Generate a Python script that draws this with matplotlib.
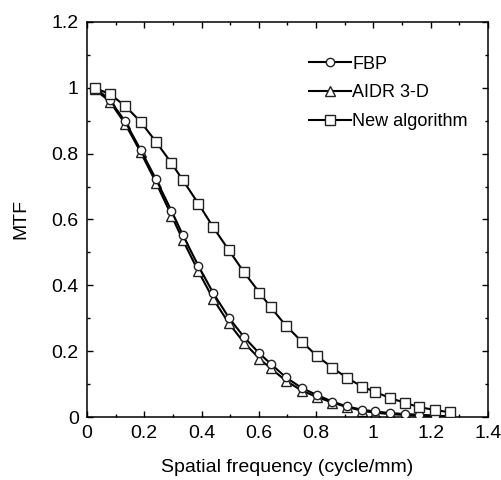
import matplotlib
matplotlib.use('Agg')
import matplotlib.pyplot as plt
from matplotlib.ticker import MultipleLocator, FuncFormatter

plt.rcParams['font.family'] = ['Liberation Sans', 'DejaVu Sans']

# spatial frequency (cycle/mm), shared by all three curves
freq = [0.028, 0.080, 0.133, 0.187, 0.241, 0.295, 0.335, 0.389, 0.441, 0.495,
        0.548, 0.602, 0.641, 0.695, 0.750, 0.802, 0.856, 0.908, 0.961, 1.004,
        1.057, 1.110, 1.160, 1.216, 1.269]

mtf_fbp = [1.000, 0.963, 0.898, 0.812, 0.722, 0.626, 0.552, 0.459, 0.376, 0.302,
           0.243, 0.193, 0.162, 0.120, 0.088, 0.067, 0.047, 0.032, 0.022, 0.017,
           0.012, 0.009, 0.007, 0.004, 0.002]

mtf_aidr = [0.995, 0.958, 0.891, 0.805, 0.712, 0.612, 0.537, 0.442, 0.358, 0.285,
            0.226, 0.177, 0.148, 0.110, 0.080, 0.061, 0.044, 0.030, 0.019, 0.013,
            0.009, 0.006, 0.004, 0.003, 0.001]

mtf_new = [0.999, 0.981, 0.945, 0.897, 0.836, 0.771, 0.719, 0.648, 0.576, 0.507,
           0.440, 0.378, 0.334, 0.277, 0.229, 0.186, 0.150, 0.119, 0.092, 0.077,
           0.058, 0.043, 0.030, 0.021, 0.014]

fig = plt.figure(figsize=(5.02, 4.8), dpi=100)
ax = fig.add_axes([0.1733, 0.13125, 0.7988, 0.823])

common = dict(color='black', linewidth=1.5, markerfacecolor='white',
              markeredgecolor='#222222', markeredgewidth=1.0)
ax.plot(freq, mtf_fbp, marker='o', markersize=6, label='FBP', zorder=3, **common)
ax.plot(freq, mtf_aidr, marker='^', markersize=7, label='AIDR 3-D', zorder=2, **common)
ax.plot(freq, mtf_new, marker='s', markersize=7, label='New algorithm', zorder=4, **common)

ax.set_xlim(0, 1.4)
ax.set_ylim(0, 1.2)
ax.xaxis.set_major_locator(MultipleLocator(0.2))
ax.xaxis.set_minor_locator(MultipleLocator(0.1))
ax.yaxis.set_major_locator(MultipleLocator(0.2))
ax.yaxis.set_minor_locator(MultipleLocator(0.1))
fmt = FuncFormatter(lambda v, p: '%g' % round(v, 2))
ax.xaxis.set_major_formatter(fmt)
ax.yaxis.set_major_formatter(fmt)

ax.tick_params(which='both', direction='in', top=True, right=True, width=1.0)
ax.tick_params(which='major', length=4.5, labelsize=14, pad=6)
ax.tick_params(which='minor', length=2.5)
for s in ax.spines.values():
    s.set_linewidth(1.1)

ax.set_xlabel('Spatial frequency (cycle/mm)', fontsize=14, labelpad=12)
ax.set_ylabel('MTF', fontsize=14, labelpad=16)

ax.legend(loc='upper left', bbox_to_anchor=(0.554, 0.915), frameon=False,
          fontsize=13, handlelength=2.3, handletextpad=0.1,
          labelspacing=0.65, borderpad=0, borderaxespad=0)

plt.savefig('out.png', dpi=100)
